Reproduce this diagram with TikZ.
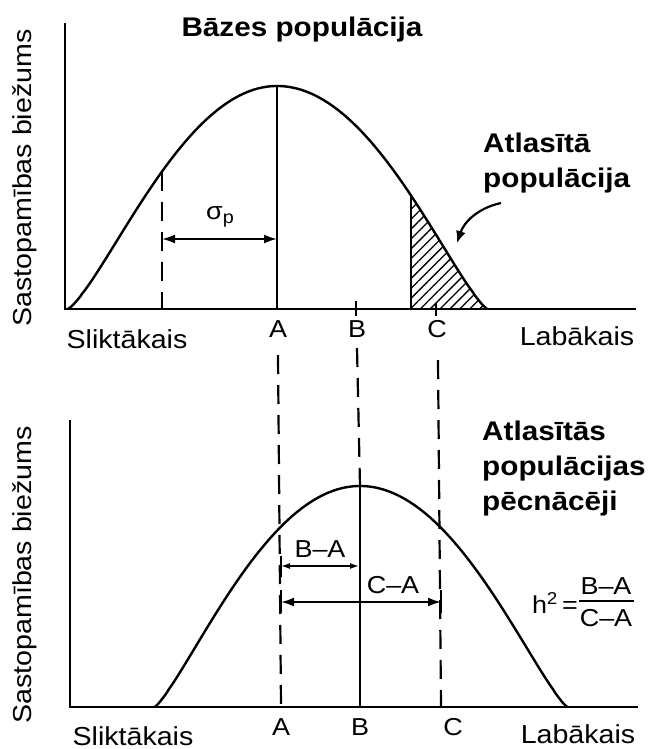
\documentclass[tikz,border=0pt]{standalone}
\usepackage{fontspec}
\setmainfont[FakeStretch=1.1]{Liberation Sans}
\usetikzlibrary{arrows.meta,patterns.meta}
\begin{document}
\begin{tikzpicture}[x=1pt,y=-1pt,
  declare function={
    tl(\x)=309-223*(1-((\x-277)/209.5)*((\x-277)/209.5))^1.35;
    tr(\x)=309-223*(1-((\x-277)/210.5)*((\x-277)/210.5))^1.3;
    bl(\x)=707-221*(1-((\x-360)/205.5)*((\x-360)/205.5))^1.27;
    br(\x)=707-221*(1-((\x-360)/207.5)*((\x-360)/207.5))^1.27;
  },
  lbl/.style={inner sep=0pt, font=\fontsize{26}{30}\selectfont},
  ttl/.style={inner sep=0pt, font=\fontsize{27}{31}\selectfont\bfseries, anchor=west},
  ptl/.style={inner sep=0pt, font=\fontsize{24.5}{28}\selectfont},
  axisln/.style={line width=2.8pt},
  crv/.style={line width=2.4pt},
  dsh/.style={line width=2.2pt, dash pattern=on 19pt off 11pt},
  dbl/.style={line width=2pt, {Latex[length=13pt,width=9pt]}-{Latex[length=13pt,width=9pt]}},
  dblsm/.style={line width=1.5pt, {Latex[length=9pt,width=6pt]}-{Latex[length=9pt,width=6pt]}},
]
\fill[white] (0,0) rectangle (650,749);
\useasboundingbox (0,0) rectangle (650,749);

% ---------------- top plot ----------------
\coordinate (tO) at (65,309);
\coordinate (tY) at (65,23);
\coordinate (tX) at (636,309);

\fill[pattern={Lines[angle=45,distance=7pt,line width=1.3pt]}]
  (411,309) -- plot[domain=411:487,samples=60] (\x,{tr(\x)}) -- cycle;
\draw[axisln] (tY) -- (tO) -- (tX);
\draw[crv] plot[domain=68:277,samples=120] (\x,{tl(\x)}) -- plot[domain=277:487,samples=120] (\x,{tr(\x)});

\coordinate (tpk) at (277,86);
\coordinate (tAb) at (277,309);
\coordinate (tsd) at (162,{tl(162)});
\coordinate (tsb) at (162,309);
\coordinate (thh) at (411,{tr(411)});
\coordinate (thb) at (411,309);
\draw[crv] (tpk) -- (tAb);
\draw[dsh] (tsd) -- (tsb);
\draw[crv] (thh) -- (thb);

\coordinate (sL) at (162,239);
\coordinate (sR) at (277,239);
\draw[dbl] (sL) -- (sR);
\node[ptl] (sig) at (220,217) {σ\raisebox{-0.35ex}{\fontsize{18}{20}\selectfont p}};

\coordinate (tBt) at (356,301);
\coordinate (tBb) at (356,316);
\coordinate (tCt) at (436,303);
\coordinate (tCb) at (436,316);
\draw[crv] (tBt) -- (tBb);
\draw[crv] (tCt) -- (tCb);

\node[ptl] (tA) at (278,329) {A};
\node[ptl] (tB) at (357,329) {B};
\node[ptl] (tC) at (437,329) {C};
\node[lbl] (tslikt) at (127,339) {Sliktākais};
\node[lbl] (tlab) at (577,336) {Labākais};
\node[lbl, rotate=90] (tyl) at (25,178) {Sastopamības biežums};

\node[inner sep=0pt, font=\fontsize{27}{31}\selectfont\bfseries] (title) at (302,30) {Bāzes populācija};
\node[ttl] (sel1) at (483,143) {Atlasītā};
\node[ttl] (sel2) at (483,181) {populācija};

\coordinate (ca1) at (501,203);
\coordinate (ca2) at (457,243);
\draw[line width=2.2pt,-{Latex[length=12pt,width=10pt]}] (ca1) .. controls (478,208) and (464,222) .. (ca2);

% ---------------- connecting dashed lines ----------------
\coordinate (dA1) at (278,355);
\coordinate (dA2) at (281,707);
\coordinate (dB1) at (357,348);
\coordinate (dB2) at (360,486);
\coordinate (dC1) at (438,360);
\coordinate (dC2) at (441,707);
\draw[dsh] (dA1) -- (dA2);
\draw[dsh] (dB1) -- (dB2);
\draw[dsh] (dC1) -- (dC2);

% ---------------- bottom plot ----------------
\coordinate (bO) at (70,707);
\coordinate (bY) at (70,420);
\coordinate (bX) at (638,707);
\draw[axisln] (bY) -- (bO) -- (bX);

\draw[crv] plot[domain=155:360,samples=120] (\x,{bl(\x)}) -- plot[domain=360:567,samples=120] (\x,{br(\x)});

\coordinate (bpk) at (360,486);
\coordinate (bBb) at (360,707);
\draw[crv] (bpk) -- (bBb);

\draw[crv] (281,556) -- (281,577);
\draw[crv] (281,590) -- (281,613);
\draw[crv] (441,590) -- (441,613);

\coordinate (baL) at (281,566);
\coordinate (baR) at (359,566);
\draw[dblsm] (baL) -- (baR);
\coordinate (caL) at (281,602);
\coordinate (caR) at (441,602);
\draw[dbl] (caL) -- (caR);

\node[ptl] (bal) at (320,549) {B–A};
\node[ptl] (cal) at (393,585) {C–A};

\node[ptl, anchor=east] (h2) at (578,603) {h\textsuperscript{2}\,=};
\node[ptl] (num) at (606,586) {B–A};
\node[ptl] (den) at (606,618) {C–A};
\draw[line width=1.5pt] (579,601) -- (634,601);

\node[ptl] (bA) at (281,727) {A};
\node[ptl] (bB) at (360,727) {B};
\node[ptl] (bC) at (453,727) {C};
\node[lbl, anchor=base] (bslikt) at (133,745) {Sliktākais};
\node[lbl] (blab) at (578,734) {Labākais};
\node[lbl, rotate=90] (byl) at (25,575) {Sastopamības biežums};

\node[ttl] (off1) at (482,431) {Atlasītās};
\node[ttl] (off2) at (482,469) {populācijas};
\node[ttl] (off3) at (482,504) {pēcnācēji};
\end{tikzpicture}
\end{document}
